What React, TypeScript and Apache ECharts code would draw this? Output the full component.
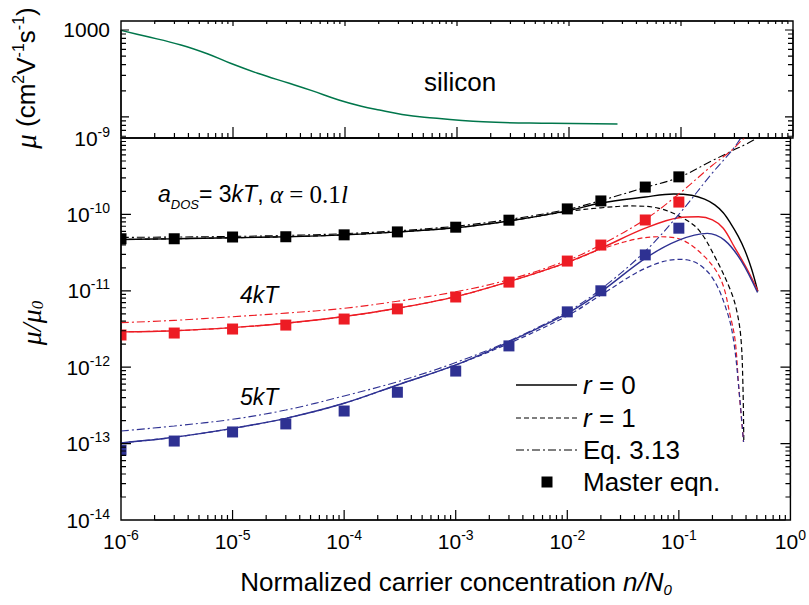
import { useEffect, useRef } from 'react';
import * as echarts from 'echarts';

const SANS = '"Liberation Sans", Arial, Helvetica, sans-serif';
const SERIF = '"Liberation Serif", "Times New Roman", serif';

const COLOR_3KT = '#000000';
const COLOR_4KT = '#ED1C24';
const COLOR_5KT = '#2E3192';
const COLOR_SI = '#00764B';

// n/N0 of the master-equation results
const masterX = [1e-6, 3e-6, 1e-5, 3e-5, 1e-4, 3e-4, 1e-3, 3e-3, 1e-2, 2e-2, 5e-2, 1e-1];
const master3kT = [4.8e-11, 4.8e-11, 5.06e-11, 5.1e-11, 5.4e-11, 5.9e-11, 6.8e-11, 8.4e-11, 1.18e-10, 1.5e-10, 2.28e-10, 3.1e-10];
const master4kT = [2.64e-12, 2.8e-12, 3.16e-12, 3.56e-12, 4.27e-12, 5.8e-12, 8.3e-12, 1.3e-11, 2.45e-11, 3.97e-11, 8.45e-11, 1.45e-10];
const master5kT = [8.2e-14, 1.08e-13, 1.42e-13, 1.81e-13, 2.67e-13, 4.7e-13, 8.9e-13, 1.9e-12, 5.3e-12, 1.0e-11, 2.95e-11, 6.6e-11];

// silicon mobility (cm^2 V^-1 s^-1)
const siliconCurve: [number, number][] = [
  [1e-6, 990], [1.63e-6, 853], [3.43e-6, 673], [5.98e-6, 530], [9.5e-6, 414], [1.66e-5, 318],
  [3.18e-5, 244], [5.06e-5, 201], [8.8e-5, 157], [1.4e-4, 133], [2.03e-4, 120], [3.23e-4, 107],
  [5.1e-4, 99.5], [1.71e-3, 88], [6.9e-3, 84.7], [2.71e-2, 83],
];

// a_DOS = 3kT
const r0_3kT: [number, number][] = [
  [1e-6, 4.7e-11], [3e-6, 4.8e-11], [1e-5, 4.95e-11], [3e-5, 5.1e-11], [1e-4, 5.4e-11], [3e-4, 5.9e-11],
  [1e-3, 6.7e-11], [3e-3, 8.2e-11], [1e-2, 1.11e-10], [2e-2, 1.41e-10], [5e-2, 1.69e-10], [0.09, 1.85e-10],
  [0.13, 1.78e-10], [0.17, 1.58e-10], [0.21, 1.33e-10], [0.25, 1.05e-10], [0.29, 7.7e-11], [0.34, 5.2e-11],
  [0.39, 3.4e-11], [0.45, 1.9e-11], [0.51, 9.8e-12],
];
const r1_3kT: [number, number][] = [
  [1e-6, 4.7e-11], [3e-6, 4.8e-11], [1e-5, 4.95e-11], [3e-5, 5.1e-11], [1e-4, 5.4e-11], [3e-4, 5.9e-11],
  [1e-3, 6.7e-11], [3e-3, 8.2e-11], [1e-2, 1.09e-10], [2e-2, 1.22e-10], [3.7e-2, 1.29e-10], [6.5e-2, 1.21e-10],
  [0.105, 9.2e-11], [0.15, 6.3e-11], [0.21, 2.8e-11], [0.29, 1.02e-11], [0.33, 5.5e-12], [0.36, 2.4e-12],
  [0.375, 6e-13], [0.382, 1.05e-13],
];
const eq_3kT: [number, number][] = [
  [1e-6, 5.0e-11], [3e-6, 5.05e-11], [1e-5, 5.15e-11], [3e-5, 5.3e-11], [1e-4, 5.6e-11], [3e-4, 6.1e-11],
  [1e-3, 7.0e-11], [3e-3, 8.6e-11], [1e-2, 1.16e-10], [2e-2, 1.52e-10], [5e-2, 2.25e-10], [0.1, 3.05e-10],
  [0.2, 5.07e-10], [0.3, 6.8e-10], [0.4, 8.3e-10], [0.474, 9.5e-10], [0.55, 1.08e-9],
];

// a_DOS = 4kT
const r0_4kT: [number, number][] = [
  [1e-6, 2.9e-12], [3e-6, 3.0e-12], [1e-5, 3.3e-12], [3e-5, 3.76e-12], [1e-4, 4.6e-12], [3e-4, 5.9e-12],
  [1e-3, 8.4e-12], [3e-3, 1.32e-11], [1e-2, 2.36e-11], [2e-2, 3.6e-11], [5e-2, 6.6e-11], [0.1, 9.05e-11],
  [0.15, 9.3e-11], [0.2, 8.5e-11], [0.25, 6.6e-11], [0.316, 3.7e-11], [0.413, 1.87e-11], [0.51, 1.0e-11],
];
const r1_4kT: [number, number][] = [
  [1e-6, 2.9e-12], [3e-6, 3.0e-12], [1e-5, 3.3e-12], [3e-5, 3.76e-12], [1e-4, 4.6e-12], [3e-4, 5.9e-12],
  [1e-3, 8.4e-12], [3e-3, 1.32e-11], [1e-2, 2.34e-11], [2e-2, 3.5e-11], [4e-2, 4.7e-11], [6.5e-2, 5.1e-11],
  [0.1, 4.8e-11], [0.17, 2.8e-11], [0.239, 1.38e-11], [0.29, 4.6e-12], [0.32, 2.2e-12], [0.344, 5.5e-13],
  [0.38, 1.05e-13],
];
const eq_4kT: [number, number][] = [
  [1e-6, 3.83e-12], [3e-6, 4.1e-12], [1e-5, 4.58e-12], [3e-5, 5.1e-12], [1e-4, 5.9e-12], [3e-4, 7.3e-12],
  [1e-3, 9.7e-12], [3e-3, 1.4e-11], [1e-2, 2.5e-11], [2e-2, 4.0e-11], [5e-2, 8.6e-11], [0.1, 1.85e-10],
  [0.2, 4.4e-10], [0.3, 7.0e-10], [0.385, 1.0e-9], [0.45, 1.2e-9],
];

// a_DOS = 5kT
const r0_5kT: [number, number][] = [
  [1e-6, 1.02e-13], [3e-6, 1.21e-13], [1e-5, 1.58e-13], [3e-5, 2.14e-13], [1e-4, 3.37e-13], [3e-4, 5.85e-13],
  [1e-3, 1.07e-12], [3e-3, 2.15e-12], [1e-2, 5.07e-12], [2e-2, 9.7e-12], [5e-2, 2.66e-11], [0.1, 4.6e-11],
  [0.18, 5.65e-11], [0.256, 4.6e-11], [0.36, 2.5e-11], [0.507, 9.5e-12],
];
const r1_5kT: [number, number][] = [
  [1e-6, 1.02e-13], [3e-6, 1.21e-13], [1e-5, 1.58e-13], [3e-5, 2.14e-13], [1e-4, 3.37e-13], [3e-4, 5.85e-13],
  [1e-3, 1.07e-12], [3e-3, 2.05e-12], [1e-2, 4.7e-12], [2e-2, 8.8e-12], [5e-2, 1.97e-11], [0.1, 2.58e-11],
  [0.146, 2.29e-11], [0.206, 1.38e-11], [0.273, 5.1e-12], [0.31, 2.2e-12], [0.344, 5.5e-13], [0.38, 1.05e-13],
];
const eq_5kT: [number, number][] = [
  [1e-6, 1.46e-13], [3e-6, 1.7e-13], [1e-5, 2.08e-13], [3e-5, 2.75e-13], [1e-4, 4.2e-13], [3e-4, 6.45e-13],
  [1e-3, 1.15e-12], [3e-3, 2.2e-12], [1e-2, 5.3e-12], [2e-2, 1.05e-11], [5e-2, 3.3e-11], [0.1, 1.0e-10],
  [0.2, 3.5e-10], [0.3, 6.9e-10], [0.36, 1.0e-9], [0.4, 1.25e-9],
];

// axis ranges and tick labels
const X_MIN = 1e-6;
const X_MAX = 1;
const LOW_MIN = 1e-14;
const LOW_MAX = 1e-9;
const UP_MIN = 57.3;
const UP_MAX = 1269;
const xLabelExponents = [-6, -5, -4, -3, -2, -1, 0];
const lowLabelExponents = [-14, -13, -12, -11, -10, -9];
const upLabels = [1000];

// tick positions
const xMajor = [1e-5, 1e-4, 1e-3, 1e-2, 1e-1];
const xDecadeStarts = [1e-6, 1e-5, 1e-4, 1e-3, 1e-2, 1e-1];
const lowMajor = [1e-13, 1e-12, 1e-11, 1e-10];
const lowDecadeStarts = [1e-14, 1e-13, 1e-12, 1e-11, 1e-10];
const upMajor = [100, 1000];
const upMinor = [60, 70, 80, 90, 200, 300, 400, 500, 600, 700, 800, 900];
const mantissas = [2, 3, 4, 5, 6, 7, 8, 9];

// plot boxes (px)
const GRID_LEFT = 121;
const GRID_WIDTH = 672;
const UP_TOP = 21;
const UP_HEIGHT = 117;
const LOW_TOP = 138;
const LOW_HEIGHT = 382;

const MAJOR = 10;
const MINOR = 5;

function minorOf(starts: number[]): number[] {
  const out: number[] = [];
  starts.forEach((d) => mantissas.forEach((m) => out.push(m * d)));
  return out;
}

// pixel length -> multiplicative step on a log axis of the given pixel span
const stepX = (px: number) => Math.pow(10, (px * Math.log10(X_MAX / X_MIN)) / GRID_WIDTH);
const stepLow = (px: number) => Math.pow(10, (px * Math.log10(LOW_MAX / LOW_MIN)) / LOW_HEIGHT);
const stepUp = (px: number) => Math.pow(10, (px * Math.log10(UP_MAX / UP_MIN)) / UP_HEIGHT);

type Pt = [number, number];

// tick marks as out-and-back strokes that run along the plot frame between ticks
function ticksOnHorizontalEdge(values: number[], lens: number[], edge: number, step: (px: number) => number, inward: 1 | -1): Pt[] {
  const pts: Pt[] = [];
  values.forEach((v, i) => {
    const f = step(lens[i]);
    pts.push([v, edge], [v, inward > 0 ? edge * f : edge / f], [v, edge]);
  });
  return pts;
}
function ticksOnVerticalEdge(values: number[], lens: number[], edge: number, inward: 1 | -1): Pt[] {
  const pts: Pt[] = [];
  values.forEach((v, i) => {
    const f = stepX(lens[i]);
    pts.push([edge, v], [inward > 0 ? edge * f : edge / f, v], [edge, v]);
  });
  return pts;
}

function sortedTicks(major: number[], minor: number[], majorLen: number, minorLen: number) {
  const all = major.map((v) => [v, majorLen]).concat(minor.map((v) => [v, minorLen]));
  all.sort((a, b) => a[0] - b[0]);
  return { values: all.map((a) => a[0]), lens: all.map((a) => a[1]) };
}

function tickLine(grid: number, data: Pt[]) {
  return {
    type: 'line',
    xAxisIndex: grid,
    yAxisIndex: grid,
    data,
    symbol: 'none',
    showSymbol: false,
    smooth: false,
    clip: false,
    silent: true,
    z: 8,
    lineStyle: { color: '#000', width: 1.2, type: 'solid' },
  };
}

function tickSeries() {
  const xMinor = minorOf(xDecadeStarts);
  const lowMinor = minorOf(lowDecadeStarts);
  const lowX = sortedTicks(xMajor, xMinor, MAJOR, MINOR);
  const lowY = sortedTicks(lowMajor, lowMinor, MAJOR, MINOR);
  const upXBottom = sortedTicks(xMajor, xMinor, MAJOR + 1, MINOR);
  const upXTop = sortedTicks(xMajor, xMinor, MINOR, 3);
  const upY = sortedTicks(upMajor, upMinor, MAJOR - 2, MINOR);
  return [
    tickLine(1, ticksOnHorizontalEdge(lowX.values, lowX.lens, LOW_MIN, stepLow, 1)),
    tickLine(1, ticksOnVerticalEdge(lowY.values, lowY.lens, X_MIN, 1)),
    tickLine(1, ticksOnVerticalEdge(lowY.values, lowY.lens, X_MAX, -1)),
    tickLine(0, ticksOnHorizontalEdge(upXBottom.values, upXBottom.lens, UP_MIN, stepUp, 1)),
    tickLine(0, ticksOnHorizontalEdge(upXTop.values, upXTop.lens, UP_MAX, stepUp, -1)),
    tickLine(0, ticksOnVerticalEdge(upY.values, upY.lens, X_MIN, 1)),
    tickLine(0, ticksOnVerticalEdge(upY.values, upY.lens, X_MAX, -1)),
  ];
}

function powerLabel(exps: number[]) {
  return (v: number) => {
    const l = Math.log10(v);
    const e = Math.round(l);
    if (Math.abs(l - e) > 1e-6 || exps.indexOf(e) < 0) return '';
    return `{b|10}{s|${e}}`;
  };
}

const tickRich = {
  b: { fontSize: 21, fontFamily: SANS, color: '#000' },
  s: { fontSize: 14, fontFamily: SANS, color: '#000', padding: [0, 0, 13, 0] },
};

function logAxis(grid: number, min: number, max: number, axisLabel: any = { show: false }) {
  return {
    type: 'log',
    logBase: 10,
    gridIndex: grid,
    min,
    max,
    axisLine: { show: false, onZero: false },
    axisTick: { show: false },
    splitLine: { show: false },
    axisLabel,
  };
}

const SOLID = 'solid';
const DASHED = [5, 3];
const DASHDOT = [8, 3, 2, 3];

function curve(data: [number, number][], color: string, dash: any, width: number) {
  return {
    type: 'line',
    xAxisIndex: 1,
    yAxisIndex: 1,
    data,
    symbol: 'none',
    showSymbol: false,
    smooth: 0.35,
    clip: true,
    silent: true,
    z: 3,
    lineStyle: { color, width, type: dash },
  };
}

function masterPoints(values: number[], color: string) {
  const S = 11;
  return {
    type: 'custom',
    xAxisIndex: 1,
    yAxisIndex: 1,
    clip: true,
    silent: true,
    z: 5,
    data: masterX.map((x, i) => [x, values[i]]),
    renderItem: (_p: any, api: any) => {
      const c = api.coord([api.value(0), api.value(1)]);
      return {
        type: 'rect',
        shape: { x: c[0] - S / 2, y: c[1] - S / 2, width: S, height: S },
        style: { fill: color },
      };
    },
  };
}

const legendY = [385, 418, 450];

function annotationGraphics(): any[] {
  return [
    // axis titles
    {
      type: 'text', x: 26, y: 78, rotation: Math.PI / 2,
      style: {
        text: '{mu|μ} (cm{sup|2}V{sup|-1}s{sup|-1})',
        fontSize: 26, fontFamily: SANS, fill: '#000', align: 'center', verticalAlign: 'middle',
        rich: {
          mu: { fontSize: 29, fontFamily: SERIF, fontStyle: 'italic' },
          sup: { fontSize: 16, fontFamily: SANS, padding: [0, 0, 15, 0] },
        },
      },
    },
    {
      type: 'text', x: 31, y: 323, rotation: Math.PI / 2,
      style: {
        text: '{m|μ/μ}{sub|0}',
        fill: '#000', align: 'center', verticalAlign: 'middle', fontSize: 28, fontFamily: SERIF, fontStyle: 'italic',
        rich: {
          m: { fontSize: 28, fontFamily: SERIF, fontStyle: 'italic' },
          sub: { fontSize: 17, fontFamily: SERIF, fontStyle: 'italic', padding: [12, 0, 0, 0] },
        },
      },
    },
    {
      type: 'text', x: 456, y: 582,
      style: {
        text: 'Normalized carrier concentration {i|n/N}{sub|0}',
        fontSize: 26, fontFamily: SANS, fill: '#000', align: 'center', verticalAlign: 'middle',
        rich: {
          i: { fontSize: 26, fontFamily: SANS, fontStyle: 'italic' },
          sub: { fontSize: 15, fontFamily: SANS, fontStyle: 'italic', padding: [14, 0, 0, 0] },
        },
      },
    },
    // panel annotations
    {
      type: 'text', x: 460, y: 82,
      style: { text: 'silicon', fontSize: 26, fontFamily: SANS, fill: '#000', align: 'center', verticalAlign: 'middle' },
    },
    {
      type: 'text', x: 158, y: 194,
      style: {
        text: '{i|a}{sub|DOS}{n|= 3}{i|kT}{n|, }{gi|α}{gn| = 0.1}{gi|l}',
        fill: '#000', align: 'left', verticalAlign: 'middle', fontSize: 23, fontFamily: SANS,
        rich: {
          i: { fontSize: 23, fontFamily: SANS, fontStyle: 'italic' },
          n: { fontSize: 23, fontFamily: SANS },
          sub: { fontSize: 13, fontFamily: SANS, fontStyle: 'italic', padding: [20, 0, 0, 0] },
          gi: { fontSize: 25, fontFamily: SERIF, fontStyle: 'italic' },
          gn: { fontSize: 25, fontFamily: SERIF },
        },
      },
    },
    {
      type: 'text', x: 240, y: 295,
      style: { text: '4kT', fontSize: 23, fontFamily: SANS, fontStyle: 'italic', fill: '#000', align: 'left', verticalAlign: 'middle' },
    },
    {
      type: 'text', x: 240, y: 397,
      style: { text: '5kT', fontSize: 23, fontFamily: SANS, fontStyle: 'italic', fill: '#000', align: 'left', verticalAlign: 'middle' },
    },
    // legend
    { type: 'line', shape: { x1: 516, y1: legendY[0], x2: 577, y2: legendY[0] }, style: { stroke: '#000', lineWidth: 1.4 } },
    { type: 'line', shape: { x1: 516, y1: legendY[1], x2: 577, y2: legendY[1] }, style: { stroke: '#000', lineWidth: 1.2, lineDash: DASHED } },
    { type: 'line', shape: { x1: 516, y1: legendY[2], x2: 577, y2: legendY[2] }, style: { stroke: '#000', lineWidth: 1.1, lineDash: DASHDOT } },
    { type: 'rect', shape: { x: 541.5, y: 476.5, width: 11, height: 11 }, style: { fill: '#000' } },
    {
      type: 'text', x: 583, y: legendY[0],
      style: {
        text: '{i|r} = 0', fontSize: 26, fontFamily: SANS, fill: '#000', align: 'left', verticalAlign: 'middle',
        rich: { i: { fontSize: 26, fontFamily: SANS, fontStyle: 'italic' } },
      },
    },
    {
      type: 'text', x: 583, y: legendY[1],
      style: {
        text: '{i|r} = 1', fontSize: 26, fontFamily: SANS, fill: '#000', align: 'left', verticalAlign: 'middle',
        rich: { i: { fontSize: 26, fontFamily: SANS, fontStyle: 'italic' } },
      },
    },
    {
      type: 'text', x: 583, y: legendY[2],
      style: { text: 'Eq. 3.13', fontSize: 26, fontFamily: SANS, fill: '#000', align: 'left', verticalAlign: 'middle' },
    },
    {
      type: 'text', x: 583, y: 482,
      style: { text: 'Master eqn.', fontSize: 26, fontFamily: SANS, fill: '#000', align: 'left', verticalAlign: 'middle' },
    },
  ];
}

function buildOption(): any {
  return {
    animation: false,
    backgroundColor: '#fff',
    grid: [
      { left: GRID_LEFT, top: UP_TOP, width: GRID_WIDTH, height: UP_HEIGHT, show: true, borderColor: '#000', borderWidth: 1.4, backgroundColor: 'transparent' },
      { left: GRID_LEFT, top: LOW_TOP, width: GRID_WIDTH, height: LOW_HEIGHT, show: true, borderColor: '#000', borderWidth: 1.4, backgroundColor: 'transparent' },
    ],
    xAxis: [
      logAxis(0, X_MIN, X_MAX),
      logAxis(1, X_MIN, X_MAX, { show: true, margin: 8, formatter: powerLabel(xLabelExponents), rich: tickRich }),
    ],
    yAxis: [
      logAxis(0, UP_MIN, UP_MAX, {
        show: true, margin: 11, color: '#000', fontSize: 21, fontFamily: SANS,
        formatter: (v: number) => (upLabels.some((u) => Math.abs(v - u) < 1e-6 * u) ? String(Math.round(v)) : ''),
      }),
      logAxis(1, LOW_MIN, LOW_MAX, { show: true, margin: 11, formatter: powerLabel(lowLabelExponents), rich: tickRich }),
    ],
    series: [
      ...tickSeries(),
      {
        type: 'line', xAxisIndex: 0, yAxisIndex: 0, data: siliconCurve, symbol: 'none', showSymbol: false,
        smooth: 0.4, silent: true, lineStyle: { color: COLOR_SI, width: 1.5 },
      },
      curve(r0_3kT, COLOR_3KT, SOLID, 1.4),
      curve(r1_3kT, COLOR_3KT, DASHED, 1.2),
      curve(eq_3kT, COLOR_3KT, DASHDOT, 1.1),
      curve(r0_4kT, COLOR_4KT, SOLID, 1.4),
      curve(r1_4kT, COLOR_4KT, DASHED, 1.2),
      curve(eq_4kT, COLOR_4KT, DASHDOT, 1.1),
      curve(r0_5kT, COLOR_5KT, SOLID, 1.4),
      curve(r1_5kT, COLOR_5KT, DASHED, 1.2),
      curve(eq_5kT, COLOR_5KT, DASHDOT, 1.1),
      masterPoints(master3kT, COLOR_3KT),
      masterPoints(master4kT, COLOR_4KT),
      masterPoints(master5kT, COLOR_5KT),
    ],
    graphic: annotationGraphics(),
  };
}

export default function App() {
  const ref = useRef<HTMLDivElement>(null);
  useEffect(() => {
    if (!ref.current) return;
    const chart = echarts.init(ref.current, undefined, { renderer: 'svg' });
    chart.setOption(buildOption());
    return () => chart.dispose();
  }, []);
  return (
    <div
      ref={ref}
      style={{ position: 'fixed', left: 0, top: 0, width: 809, height: 605, background: '#fff' }}
    />
  );
}
